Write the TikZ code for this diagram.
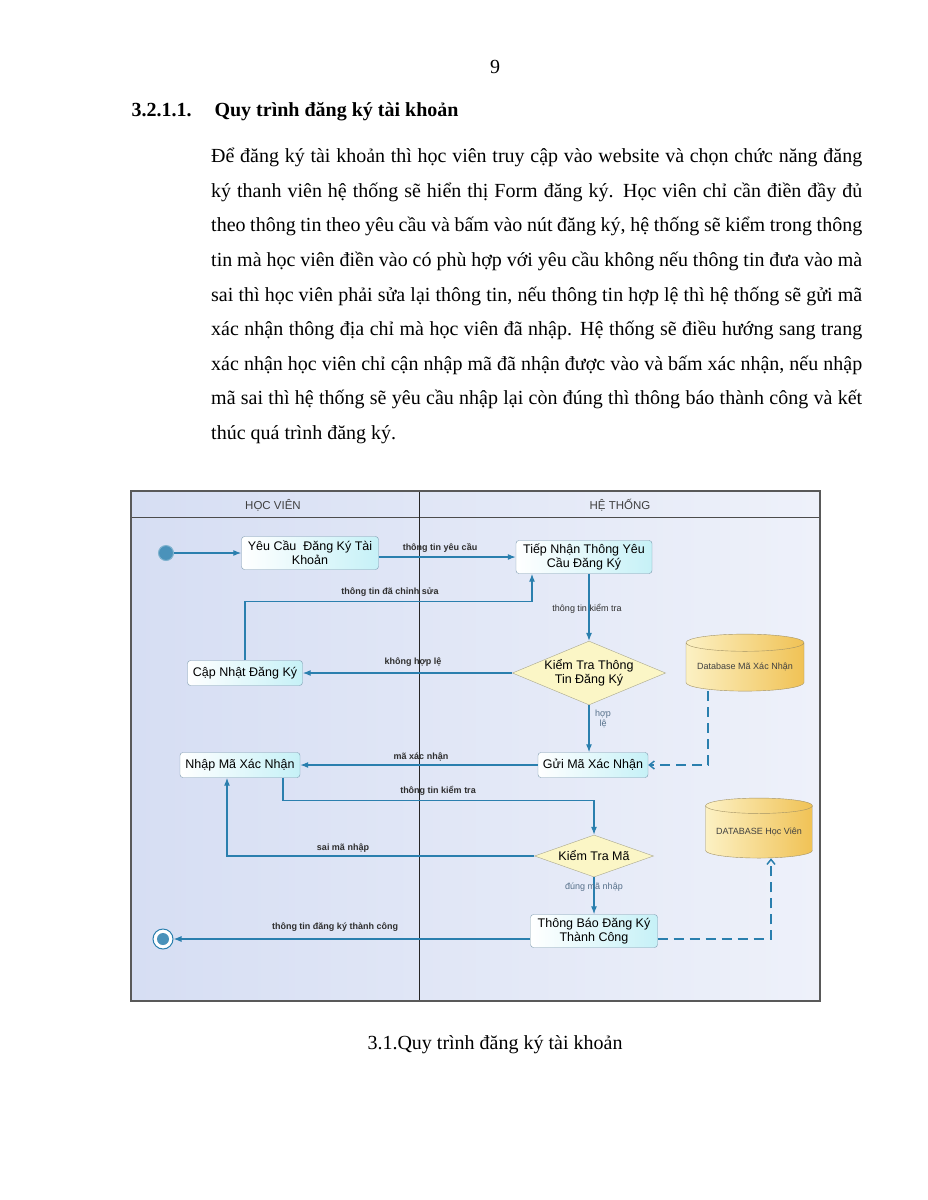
\documentclass[tikz,border=0pt]{standalone}
\usepackage{fontspec}
\setmainfont{Liberation Serif}
\setsansfont{Liberation Sans}
\usepackage{tikz}
\usetikzlibrary{positioning, arrows.meta, calc, shapes.geometric}
\definecolor{flow-blue}{HTML}{2A7FAE}
\definecolor{lane-dark}{HTML}{D6DEF3}
\definecolor{lane-light}{HTML}{EEF1FA}
\definecolor{act-border}{HTML}{7C9AAE}
\definecolor{act-fill}{HTML}{C6F1F7}
\definecolor{dec-fill}{HTML}{FBF6C6}
\definecolor{dec-border}{HTML}{A8A68C}
\definecolor{db-light}{HTML}{FCF1C4}
\definecolor{db-dark}{HTML}{F0C255}
\definecolor{db-border}{HTML}{A39366}
\definecolor{lbl-gray}{HTML}{2E2E2E}
\definecolor{lbl-soft}{HTML}{56708A}

\begin{document}
\begin{tikzpicture}[x=1pt, y=-1pt,
    act/.style={draw=act-border, rounded corners=3pt, left color=white, right color=act-fill,
        font=\sffamily\fontsize{12.5}{14}\selectfont, align=center, inner sep=0pt},
    dec/.style={diamond, draw=dec-border, fill=dec-fill, inner sep=0pt, align=center,
        font=\sffamily\fontsize{12.5}{14}\selectfont},
    db/.style={cylinder, shape border rotate=90, aspect=0.18, draw=db-border,
        left color=db-light, right color=db-dark, inner sep=0pt,
        font=\sffamily\fontsize{9}{10}\selectfont, text=black!75},
    flow/.style={draw=flow-blue, line width=1.2pt, -{Latex[length=8pt, width=6pt]}},
    dashflow/.style={draw=flow-blue, line width=1.5pt, dash pattern=on 10pt off 6pt,
        -{Straight Barb[length=5pt, width=8pt]}},
    lbl/.style={font=\sffamily\bfseries\fontsize{9}{10}\selectfont, text=lbl-gray},
    softlbl/.style={font=\sffamily\fontsize{9}{10}\selectfont, text=lbl-soft},
    lane/.style={font=\sffamily\fontsize{11.5}{12}\selectfont, text=black!75},
    body/.style={font=\fontsize{20}{34.6}\selectfont},
]
    % Page
    \fill[white] (0,0) rectangle (927,1200);
    \useasboundingbox (0,0) rectangle (927,1200);

    \node[body, anchor=base] (pagenum) at (495,73) {9};
    \node[body, font=\bfseries\fontsize{20}{34.6}\selectfont, anchor=base west] (secnum) at (128,116) {3.2.1.1.};
    \node[body, font=\bfseries\fontsize{20}{34.6}\selectfont, anchor=base west] (sectitle) at (211,116) {Quy trình đăng ký tài khoản};

    \node[body, anchor=north west, text width=651pt, align=justify, inner sep=0pt] (para) at (211,148) {%
        Để đăng ký tài khoản thì học viên truy cập vào website và chọn chức năng đăng\linebreak
        ký thanh viên hệ thống sẽ hiển thị Form đăng ký. Học viên chỉ cần điền đầy đủ\linebreak
        theo thông tin theo yêu cầu và bấm vào nút đăng ký, hệ thống sẽ kiểm trong thông\linebreak
        tin mà học viên điền vào có phù hợp với yêu cầu không nếu thông tin đưa vào mà\linebreak
        sai thì học viên phải sửa lại thông tin, nếu thông tin hợp lệ thì hệ thống sẽ gửi mã\linebreak
        xác nhận thông địa chỉ mà học viên đã nhập. Hệ thống sẽ điều hướng sang trang\linebreak
        xác nhận học viên chỉ cận nhập mã đã nhận được vào và bấm xác nhận, nếu nhập\linebreak
        mã sai thì hệ thống sẽ yêu cầu nhập lại còn đúng thì thông báo thành công và kết\linebreak
        thúc quá trình đăng ký.};

    % Swimlanes
    \shade[left color=lane-dark, right color=lane-light] (131,491) rectangle (820,1001);
    \draw[black!70, line width=0.8pt] (131,517) -- (820,517);
    \draw[black!85, line width=0.9pt] (419,491) -- (419,1001);
    \draw[black!65, line width=1.6pt] (131,491) rectangle (820,1001);
    \node[lane] (lanehv) at (273,505) {HỌC VIÊN};
    \node[lane] (laneht) at (620,505) {HỆ THỐNG};

    % Activities
    \node[circle, draw=flow-blue!60, line width=1pt, fill=flow-blue!85, minimum size=15pt, inner sep=0pt] (start) at (166,553) {};
    \node[act, minimum width=137, minimum height=33] (yeucau) at (310,553) {Yêu Cầu\ \ Đăng Ký Tài\\Khoản};
    \node[act, minimum width=136, minimum height=33] (tiepnhan) at (584,557) {Tiếp Nhận Thông Yêu\\Cầu Đăng Ký};
    \node[dec, aspect=2.4, minimum width=151, minimum height=63] (kiemtra) at (589,673) {Kiểm Tra Thông\\Tin Đăng Ký};
    \node[act, minimum width=115, minimum height=25] (capnhat) at (245,673) {Cập Nhật Đăng Ký};
    \node[db, minimum width=118, minimum height=57] (dbma) at (745,667) {Database Mã Xác Nhận};
    \node[act, minimum width=110, minimum height=25] (guima) at (593,765) {Gửi Mã Xác Nhận};
    \node[act, minimum width=120, minimum height=25] (nhapma) at (240,765) {Nhập Mã Xác Nhận};
    \node[dec, aspect=2.8, minimum width=119, minimum height=42] (kiemtrama) at (594,856) {Kiểm Tra Mã};
    \node[act, minimum width=127, minimum height=33] (thongbao) at (594,931) {Thông Báo Đăng Ký\\Thành Công};
    \node[db, minimum width=107, minimum height=60] (dbhv) at (759,832) {DATABASE Học Viên};
    \node[circle, draw=flow-blue, line width=1pt, fill=white, minimum size=20pt, inner sep=0pt] (end) at (163,939) {};
    \fill[flow-blue!85] (end) circle (6);

    % Flows
    \draw[flow] (start) -- (yeucau);
    \draw[flow] (yeucau.east |- tiepnhan.west) -- (tiepnhan.west);
    \draw[flow] (capnhat.north) -- ++(0,-59) -| ([xshift=-52pt]tiepnhan.south);
    \draw[flow] (tiepnhan.south -| kiemtra.north) -- (kiemtra.north);
    \draw[flow] (kiemtra.west) -- (capnhat.east);
    \draw[flow] (kiemtra.south) -- (kiemtra.south |- guima.north);
    \draw[dashflow] ([xshift=-37pt]dbma.south) |- (guima.east);
    \draw[flow] (guima.west) -- (guima.west -| nhapma.east);
    \draw[flow] ([xshift=43pt]nhapma.south) -- ++(0,23) -| (kiemtrama.north);
    \draw[flow] (kiemtrama.west) -| ([xshift=-13pt]nhapma.south);
    \draw[flow] (kiemtrama.south) -- (thongbao.north);
    \draw[dashflow] (thongbao.east |- end) -| ([xshift=12pt]dbhv.south);
    \draw[flow] (thongbao.west |- end) -- (end);

    % Flow labels
    \node[lbl] (l-yeucau) at (440,548) {thông tin yêu cầu};
    \node[lbl] (l-chinhsua) at (390,592) {thông tin đã chỉnh sửa};
    \node[softlbl, text=lbl-gray] (l-kiemtra1) at (587,609) {thông tin kiểm tra};
    \node[lbl] (l-khonghople) at (413,662) {không hợp lệ};
    \node[softlbl, align=center] (l-hople) at (603,719) {hợp\\lệ};
    \node[lbl] (l-maxn) at (421,757) {mã xác nhận};
    \node[lbl] (l-kiemtra2) at (438,791) {thông tin kiểm tra};
    \node[lbl] (l-saima) at (343,848) {sai mã nhập};
    \node[softlbl] (l-dungma) at (594,887) {đúng mã nhập};
    \node[lbl] (l-thanhcong) at (335,927) {thông tin đăng ký thành công};

    % Caption
    \node[body, anchor=base] (caption) at (495,1049) {3.1.Quy trình đăng ký tài khoản};
\end{tikzpicture}
\end{document}
